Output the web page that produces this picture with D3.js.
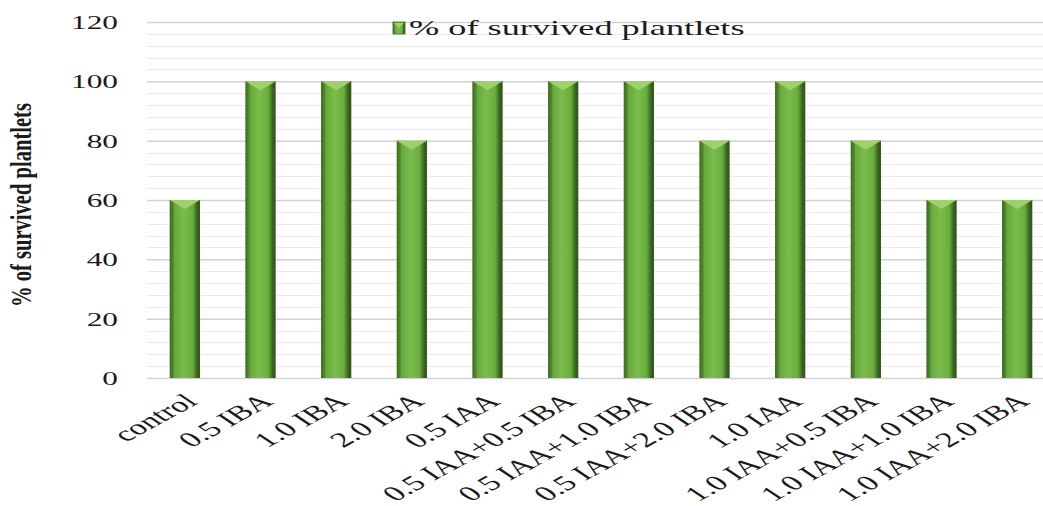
<!DOCTYPE html>
<html>
<head>
<meta charset="utf-8">
<script src="https://cdn.jsdelivr.net/npm/d3@7/dist/d3.min.js"></script>
<style>
  html, body { margin: 0; padding: 0; background: #fff; }
  svg { display: block; }
  text { font-family: "Liberation Serif", "Times New Roman", serif; fill: #1a1a1a; }
</style>
</head>
<body>
<svg id="chart" width="1043" height="506"></svg>
<script>
// Treatments (mg/L auxin combinations)
const categories = [
  "control", "0.5 IBA", "1.0  IBA", "2.0  IBA", "0.5 IAA",
  "0.5 IAA+0.5 IBA", "0.5 IAA+1.0 IBA", "0.5 IAA+2.0 IBA",
  "1.0 IAA", "1.0 IAA+0.5 IBA", "1.0 IAA+1.0 IBA", "1.0 IAA+2.0 IBA"
];
// Survival of plantlets (%)
const survived = [60, 100, 100, 80, 100, 100, 100, 80, 100, 80, 60, 60];
const yTicks = [0, 20, 40, 60, 80, 100, 120];
const seriesName = "% of survived plantlets";
const yTitle = "% of survived plantlets";

// The whole figure is drawn wide: text is stretched horizontally
const SX = 1.65;

const svg = d3.select("#chart");
const margin = { left: 147, right: 1055, top: 22, bottom: 378 };

const x = d3.scaleBand()
  .domain(categories)
  .range([margin.left, margin.right])
  .paddingInner(0.6)
  .paddingOuter(0.3);

const y = d3.scaleLinear().domain([0, 120]).range([margin.bottom, margin.top]);

// Bevelled bar gradient
const defs = svg.append("defs");
const grad = defs.append("linearGradient").attr("id", "barGrad")
  .attr("x1", "0").attr("x2", "1").attr("y1", "0").attr("y2", "0");
[[0, "#3f6a22"], [0.12, "#4f8a2c"], [0.16, "#66a93c"], [0.45, "#7bbd4a"],
 [0.75, "#6aae3e"], [0.84, "#4b8529"], [0.9, "#3b6320"], [1, "#2f511a"]]
  .forEach(([o, c]) => grad.append("stop").attr("offset", o).attr("stop-color", c));

// Grid: minor lines every 4, major every 20
const minor = d3.range(0, 121, 4).filter(v => v % 20 !== 0);
svg.append("g").selectAll("line").data(minor).join("line")
  .attr("x1", margin.left).attr("x2", 1043)
  .attr("y1", d => Math.round(y(d)) + 0.5).attr("y2", d => Math.round(y(d)) + 0.5)
  .attr("stroke", "#ebebeb").attr("stroke-width", 1);

const yAxis = d3.axisLeft(y).tickValues(yTicks).tickSize(-(1043 - margin.left)).tickPadding(0);
const gy = svg.append("g").attr("transform", `translate(${margin.left},0)`).call(yAxis);
gy.select(".domain").remove();
gy.selectAll(".tick line").attr("stroke", "#d2d2d2").attr("stroke-width", 1.5);
gy.selectAll(".tick text")
  .attr("x", 0).attr("dy", "0.34em")
  .attr("transform", `translate(-29,0) scale(${SX},1)`)
  .style("font-family", "'Liberation Serif', serif")
  .style("font-size", "19px").attr("fill", "#1a1a1a");

// Bars
const bw = x.bandwidth();
const bars = svg.append("g").selectAll("g")
  .data(categories.map((c, i) => ({ c, v: survived[i] }))).join("g");
bars.append("rect")
  .attr("x", d => x(d.c)).attr("y", d => y(d.v))
  .attr("width", bw).attr("height", d => y(0) - y(d.v))
  .attr("fill", "url(#barGrad)");
// top bevel facet
bars.append("path")
  .attr("d", d => {
    const x0 = x(d.c), y0 = y(d.v);
    return `M${x0},${y0}L${x0 + bw},${y0}L${x0 + bw / 2},${y0 + 9}Z`;
  })
  .attr("fill", "#9fd06b");

// X axis labels, rotated then stretched
svg.append("g").selectAll("text").data(categories).join("text")
  .attr("transform", d => `translate(${x(d) + bw / 2 + 14},${y(0) + 25}) scale(${SX},1) rotate(-42)`)
  .attr("text-anchor", "end")
  .style("font-size", "21px")
  .text(d => d);

// Y axis title
svg.append("text")
  .attr("transform", "translate(31,205) scale(1.45,1) rotate(-90) scale(0.98,1)")
  .attr("text-anchor", "middle")
  .style("font-size", "21px").style("font-weight", "bold")
  .text(yTitle);

// Legend
const lg = svg.append("g").attr("transform", "translate(393,21)");
lg.append("rect").attr("width", 12).attr("height", 12).attr("y", 1).attr("fill", "url(#barGrad)")
  .attr("stroke", "#3f6a22").attr("stroke-width", 0.8);
lg.append("path").attr("d", "M1,2L11,2L6,7Z").attr("fill", "#9fd06b");
lg.append("text").attr("transform", `translate(16,14) scale(${SX},1)`)
  .style("font-size", "22px")
  .text(seriesName);
</script>
</body>
</html>
